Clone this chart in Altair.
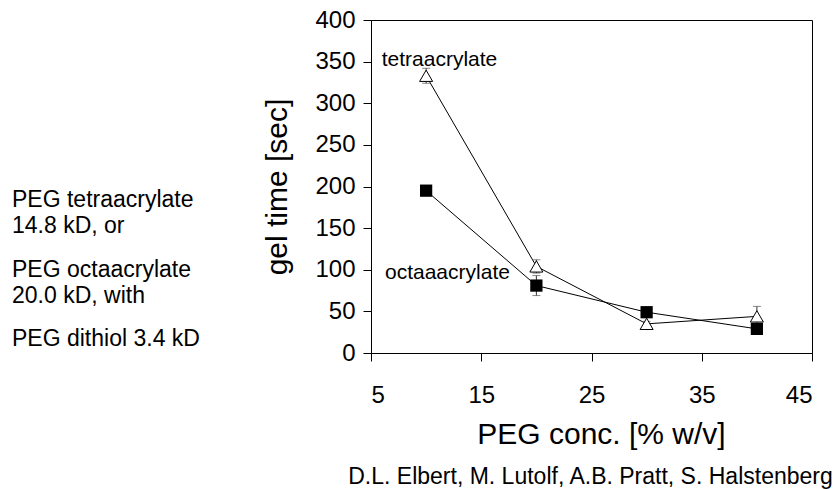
import altair as alt
import pandas as pd

conc = [10, 20, 30, 40]
tetra = [333, 104, 35, 44]
tetra_err = [9, 8, 3, 12]
octa = [195, 81, 49, 29]
octa_err = [3, 12, 3, 3]

x_ticks = [5, 15, 25, 35, 45]
y_ticks = [0, 50, 100, 150, 200, 250, 300, 350, 400]

FONT = "Liberation Sans"

rows = []
for c, v, e in zip(conc, tetra, tetra_err):
    rows.append({"conc": c, "time": v, "lo": v - e, "hi": v + e, "series": "tetra"})
for c, v, e in zip(conc, octa, octa_err):
    rows.append({"conc": c, "time": v, "lo": v - e, "hi": v + e, "series": "octa"})
df = pd.DataFrame(rows)
one = pd.DataFrame({"k": [0]})

xs = alt.Scale(domain=[5, 45], nice=False, zero=False)
ys = alt.Scale(domain=[0, 400], nice=False)

X = alt.X("conc:Q", scale=xs,
          axis=alt.Axis(values=x_ticks, title="PEG conc. [% w/v]", grid=False,
                        tickSize=8, labelPadding=22, labelFontSize=24,
                        titleFontSize=30, titlePadding=12, titleFontWeight="normal",
                        titleX=230, domainColor="black", tickColor="black",
                        labelColor="black", titleColor="black",
                        labelFont=FONT, titleFont=FONT))
Y = alt.Y("time:Q", scale=ys,
          axis=alt.Axis(values=y_ticks, title="gel time [sec]", grid=False,
                        tickSize=8, labelPadding=8, labelFontSize=24,
                        titleFontSize=30, titlePadding=22, titleFontWeight="normal",
                        domainColor="black", tickColor="black",
                        labelColor="black", titleColor="black",
                        labelFont=FONT, titleFont=FONT))

base = alt.Chart(df)

lines = base.mark_line(color="black", strokeWidth=1).encode(
    x=X, y=Y, detail="series:N")

err = base.mark_rule(color="#333333", strokeWidth=1).encode(
    x="conc:Q", y="lo:Q", y2="hi:Q")
cap_hi = base.mark_tick(color="#555555", size=8, thickness=1, orient="horizontal").encode(
    x="conc:Q", y="hi:Q")
cap_lo = base.mark_tick(color="#555555", size=8, thickness=1, orient="horizontal").encode(
    x="conc:Q", y="lo:Q")

tri = base.transform_filter(alt.datum.series == "tetra").mark_point(
    shape="triangle-up", filled=True, fill="white", stroke="black",
    strokeWidth=1, size=170, opacity=1).encode(x="conc:Q", y="time:Q")
sq = base.transform_filter(alt.datum.series == "octa").mark_point(
    shape="square", filled=True, color="black", size=150, opacity=1).encode(
    x="conc:Q", y="time:Q")

ann_df = pd.DataFrame({"conc": [5.97, 6.27], "time": [344.7, 88.9],
                       "label": ["tetraacrylate", "octaaacrylate"]})
ann = alt.Chart(ann_df).mark_text(align="left", baseline="alphabetic",
                                  fontSize=21, font=FONT, color="black").encode(
    x="conc:Q", y="time:Q", text="label:N")

left1 = alt.Chart(one).mark_text(align="left", baseline="alphabetic", fontSize=23,
                                 font=FONT, color="black", lineHeight=26.6).encode(
    x=alt.value(-359), y=alt.value(186.7),
    text=alt.value(["PEG tetraacrylate", "14.8 kD, or"]))
left2 = alt.Chart(one).mark_text(align="left", baseline="alphabetic", fontSize=23,
                                 font=FONT, color="black", lineHeight=26.6).encode(
    x=alt.value(-359), y=alt.value(256.7),
    text=alt.value(["PEG octaacrylate", "20.0 kD, with"]))
left3 = alt.Chart(one).mark_text(align="left", baseline="alphabetic", fontSize=23,
                                 font=FONT, color="black").encode(
    x=alt.value(-359), y=alt.value(326),
    text=alt.value("PEG dithiol 3.4 kD"))
credit = alt.Chart(one).mark_text(align="center", baseline="alphabetic", fontSize=23,
                                  font=FONT, color="black").encode(
    x=alt.value(219.5), y=alt.value(464),
    text=alt.value("D.L. Elbert, M. Lutolf, A.B. Pratt, S. Halstenberg"))

chart = alt.layer(lines, err, cap_hi, cap_lo, tri, sq, ann,
                  left1, left2, left3, credit).properties(
    width=441, height=333,
    autosize=alt.AutoSizeParams(type="none"),
    padding={"left": 371, "top": 20, "right": 27, "bottom": 136},
    background="white",
).configure_view(stroke="black", strokeWidth=1)

chart.save("out.html", embed_options={"renderer": "svg", "actions": False})
